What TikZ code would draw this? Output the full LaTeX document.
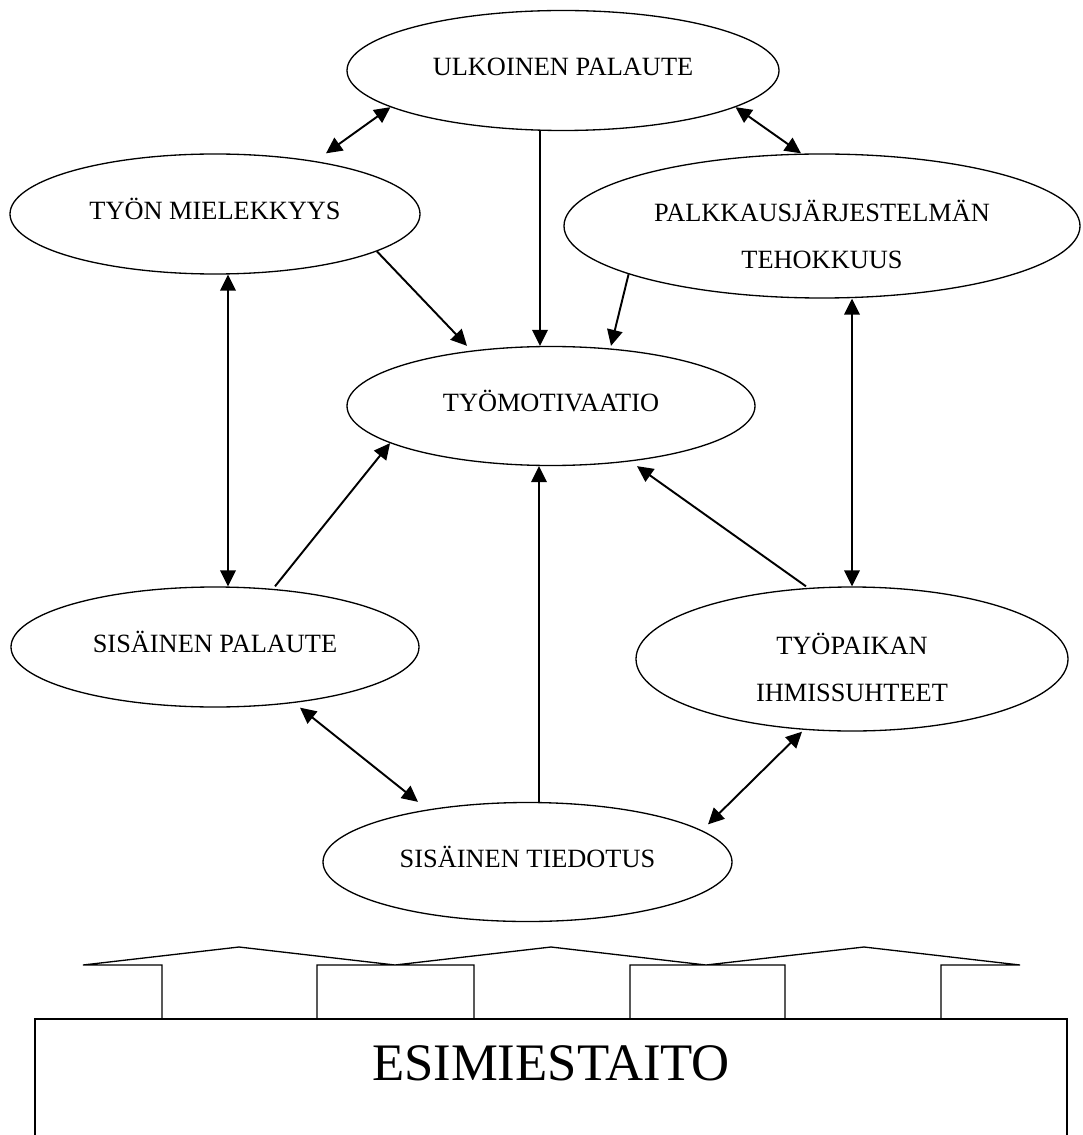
\documentclass[tikz,border=0pt]{standalone}
\usepackage{fontspec}
\setmainfont{Liberation Serif}
\usetikzlibrary{shapes.geometric,arrows.meta}

\tikzset{
    factor/.style={
        ellipse, draw, line width=0.75pt, inner sep=0pt, align=center,
        font=\fontsize{15}{26.7}\selectfont, text height=10pt, text depth=4.3pt,
    },
    twoline/.style={text height=48.6pt, text depth=0pt},
    link/.style={line width=1.1pt, -{Triangle[length=0.32cm,width=0.31cm]}},
    twoway/.style={line width=1.1pt, {Triangle[length=0.32cm,width=0.31cm]}-{Triangle[length=0.32cm,width=0.31cm]}},
    blockline/.style={line width=0.75pt},
}

\begin{document}
\begin{tikzpicture}
  \useasboundingbox (0,0) rectangle (21.64,-22.70);

  % Factors
  \node[factor, minimum width=8.64cm, minimum height=2.40cm] (ulk) at (11.26,-1.41) {ULKOINEN PALAUTE};
  \node[factor, minimum width=8.20cm, minimum height=2.40cm] (tyon) at (4.30,-4.28) {TYÖN MIELEKKYYS};
  \node[factor, twoline, minimum width=10.32cm, minimum height=2.88cm] (palk) at (16.44,-4.52) {PALKKAUSJÄRJESTELMÄN\\TEHOKKUUS};
  \node[factor, minimum width=8.16cm, minimum height=2.38cm] (mot) at (11.02,-8.12) {TYÖMOTIVAATIO};
  \node[factor, minimum width=8.16cm, minimum height=2.40cm] (sispal) at (4.30,-12.94) {SISÄINEN PALAUTE};
  \node[factor, twoline, minimum width=8.64cm, minimum height=2.88cm] (tyop) at (17.04,-13.18) {TYÖPAIKAN\\IHMISSUHTEET};
  \node[factor, minimum width=8.18cm, minimum height=2.38cm] (sistied) at (10.55,-17.24) {SISÄINEN TIEDOTUS};

  % Ulkoinen palaute
  \draw[twoway] ([xshift=2.22cm]tyon.north) -- (ulk.192);
  \draw[twoway] (ulk.348) -- ([xshift=-0.42cm]palk.north);
  \draw[link] ([xshift=-0.46cm]ulk.south) -- ([xshift=-0.22cm]mot.north);

  % Into Tyomotivaatio
  \draw[link] (tyon.347) -- ([xshift=-1.68cm]mot.north);
  \draw[link] (palk.194) -- ([xshift=1.2cm]mot.north);
  \draw[link] ([xshift=1.2cm]sispal.north) -- (mot.193);
  \draw[link] ([xshift=0.23cm]sistied.north) -- ([xshift=-0.24cm]mot.south);
  \draw[link] ([xshift=-0.92cm]tyop.north) -- ([xshift=1.72cm]mot.south);

  % Side links
  \draw[twoway] ([xshift=0.26cm]tyon.south) -- ([xshift=0.26cm]sispal.north);
  \draw[twoway] ([xshift=0.6cm]palk.south) -- (tyop.north);
  \draw[twoway] ([xshift=1.7cm]sispal.south) -- ([xshift=-2.19cm]sistied.north);
  \draw[twoway] ([xshift=3.61cm,yshift=-0.45cm]sistied.north) -- ([xshift=-1.0cm]tyop.south);

  % Esimiestaito arrows
  \draw[blockline] (3.24,-20.38) -- (3.24,-19.30) -- (1.66,-19.30) -- (4.78,-18.94) -- (7.90,-19.30) -- (6.34,-19.30) -- (6.34,-20.38);
  \draw[blockline] (9.48,-20.38) -- (9.48,-19.30) -- (7.90,-19.30) -- (11.02,-18.94) -- (14.12,-19.30) -- (12.60,-19.30) -- (12.60,-20.38);
  \draw[blockline] (15.70,-20.38) -- (15.70,-19.30) -- (14.12,-19.30) -- (17.28,-18.94) -- (20.40,-19.30) -- (18.82,-19.30) -- (18.82,-20.38);

  % Esimiestaito box
  \draw[blockline] (0.70,-22.70) -- (0.70,-20.38) -- (21.34,-20.38) -- (21.34,-22.70);
  \node[font=\fontsize{30}{36}\selectfont] (esimies) at (11.02,-21.26) {ESIMIESTAITO};

\end{tikzpicture}
\end{document}
